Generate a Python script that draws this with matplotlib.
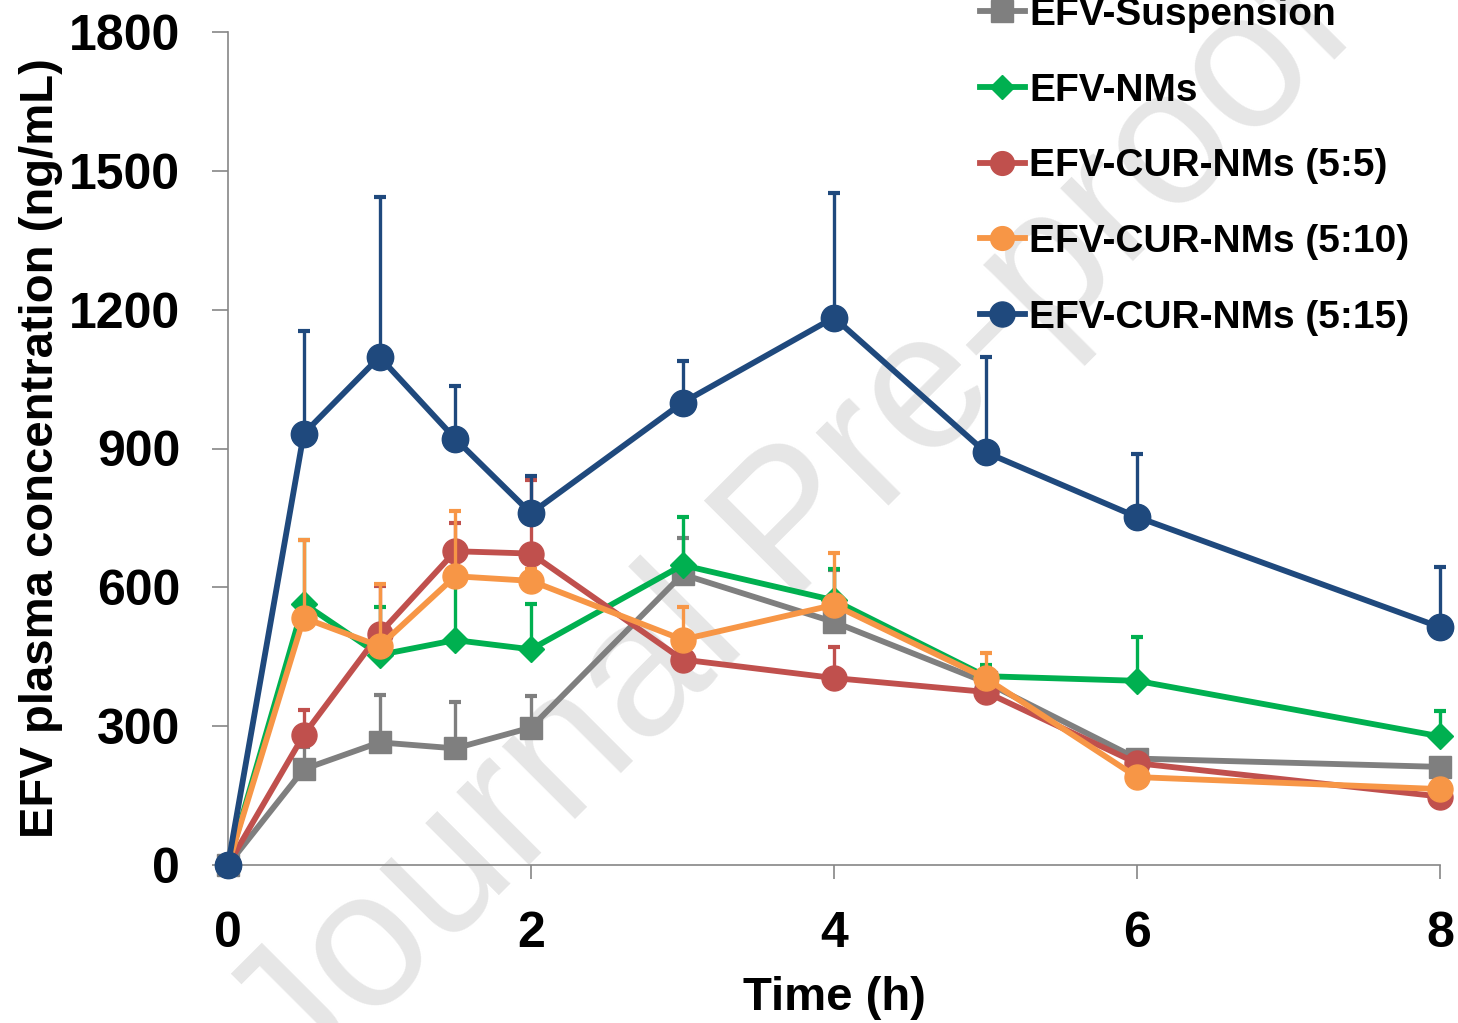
import numpy as np
import matplotlib
matplotlib.use("Agg")
import matplotlib.pyplot as plt

plt.rcParams['font.family'] = ['Liberation Sans', 'DejaVu Sans']

# ---- data ----
time_h = [0, 0.5, 1, 1.5, 2, 3, 4, 5, 6, 8]
series_names = ["EFV-Suspension", "EFV-NMs", "EFV-CUR-NMs (5:5)",
                "EFV-CUR-NMs (5:10)", "EFV-CUR-NMs (5:15)"]

susp = [0, 207, 265, 252, 297, 628, 525, 395, 230, 212]
susp_top = [0, 255, 367, 352, 366, 706, 637, 410, 245, 225]

nms = [0, 565, 454, 486, 466, 648, 572, 408, 398, 278]
nms_top = [0, 702, 557, 612, 564, 752, 640, 432, 493, 333]

cur55 = [0, 281, 500, 678, 673, 444, 404, 374, 220, 148]
cur55_top = [0, 336, 603, 740, 831, 470, 471, 390, 235, 160]

cur510 = [0, 534, 473, 624, 614, 487, 562, 404, 190, 164]
cur510_top = [0, 702, 608, 766, 640, 557, 675, 458, 205, 175]

cur515 = [0, 932, 1098, 921, 760, 999, 1183, 892, 752, 514]
cur515_top = [0, 1153, 1443, 1036, 841, 1088, 1453, 1097, 888, 644]

yticks = [0, 300, 600, 900, 1200, 1500, 1800]
xticks = [0, 2, 4, 6, 8]

colors = ["#7F7F7F", "#00B050", "#C0504D", "#F79646", "#1F497D"]
markers = ["s", "D", "o", "o", "o"]
msizes = [16, 13, 18, 18, 19]

values = [susp, nms, cur55, cur510, cur515]
tops = [susp_top, nms_top, cur55_top, cur510_top, cur515_top]

# ---- figure ----
fig = plt.figure(figsize=(14.58, 10.23), dpi=100)
ax = fig.add_axes([228/1458, 1 - 865/1023, (1440-228)/1458, (865-32)/1023])
ax.set_facecolor('none')
ax.set_zorder(1)

# watermark (behind everything)
fig.text(0.545, 0.483, "Journal Pre-proof", fontsize=140, color="#E6E6E6",
         rotation=45, ha='center', va='center', rotation_mode='anchor',
         zorder=-5)

t = np.array(time_h)
for i, (name, v, top) in enumerate(zip(series_names, values, tops)):
    v = np.array(v, dtype=float)
    top = np.array(top, dtype=float)
    z = 3 + i
    ax.errorbar(t, v, yerr=[np.zeros_like(v), top - v], fmt='none',
                ecolor=colors[i], elinewidth=2.4, capsize=4.5, capthick=3,
                zorder=z - 0.5, clip_on=False)
    ax.plot(t, v, color=colors[i], lw=4.2, marker=markers[i],
            ms=msizes[i], mec=colors[i], mfc=colors[i], label=name,
            zorder=z, clip_on=False)

ax.set_xlim(0, 8)
ax.set_ylim(0, 1800)
ax.set_xticks(xticks)
ax.set_yticks(yticks)
ax.set_xticklabels([str(x) for x in xticks])
ax.set_yticklabels([str(y) for y in yticks])

for s in ['top', 'right']:
    ax.spines[s].set_visible(False)
for s in ['left', 'bottom']:
    ax.spines[s].set_color('#868686')
    ax.spines[s].set_linewidth(1.2)
    ax.spines[s].set_zorder(1)

ax.tick_params(axis='y', direction='out', length=11.5, width=1.2,
               color='#868686', pad=23, labelsize=36)
ax.tick_params(axis='x', direction='out', length=10, width=1.2,
               color='#868686', pad=23, labelsize=36)
for lab in ax.get_xticklabels() + ax.get_yticklabels():
    lab.set_fontweight('bold')

ax.set_xlabel("Time (h)", fontsize=34, fontweight='bold', labelpad=14)
ax.set_ylabel("EFV plasma concentration (ng/mL)", fontsize=34,
              fontweight='bold')
ax.yaxis.set_label_coords(-165/1212, 0.5)

leg = ax.legend(loc='upper left', bbox_to_anchor=(980/1458, 1.003),
                bbox_transform=fig.transFigure, frameon=False,
                prop={'weight': 'bold', 'size': 28},
                handlelength=1.15, handletextpad=0.12, labelspacing=1.02,
                borderpad=0, borderaxespad=0, markerscale=0.95)

fig.savefig("out.png", dpi=100)
